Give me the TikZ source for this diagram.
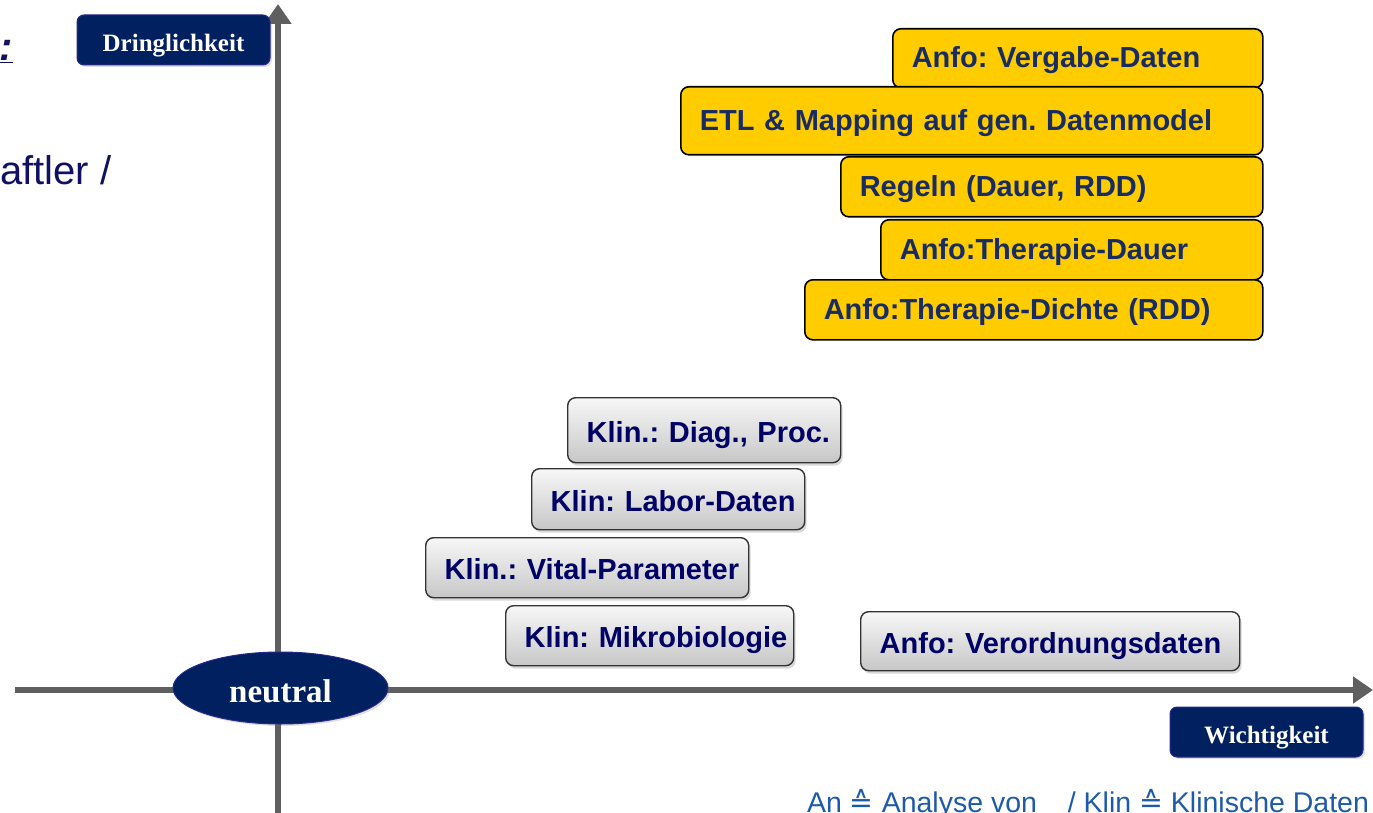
\documentclass[tikz,border=0pt]{standalone}
\usepackage{fontspec}
\setmainfont{Liberation Sans}
\newfontfamily\serifb{Liberation Serif}
\newfontfamily\symf{DejaVu Sans}
\usetikzlibrary{arrows.meta,shapes.geometric,shadows}
\definecolor{navyc}{RGB}{0,32,96}
\definecolor{navyborder}{RGB}{40,40,140}
\definecolor{axisc}{RGB}{95,95,95}
\definecolor{yellowc}{RGB}{255,204,0}
\definecolor{ytext}{RGB}{24,44,100}
\definecolor{gtext}{RGB}{0,0,102}
\definecolor{bluec}{RGB}{30,90,170}
\definecolor{leftc}{RGB}{16,16,100}
\tikzset{
  axisline/.style={draw=axisc, line width=5.5pt, -{Triangle[width=26pt,length=20pt]}},
  navybox/.style={fill=navyc, draw=navyborder, line width=1pt, rounded corners=7pt,
    text=white, font=\serifb\fontsize{25}{28}\selectfont\bfseries,
    minimum width=193pt, minimum height=50pt, inner sep=0pt, text depth=0pt,
    drop shadow={opacity=0.25, shadow xshift=2pt, shadow yshift=-2pt}},
  neutralnode/.style={ellipse, fill=navyc, draw=navyborder, line width=1pt,
    text=white, font=\serifb\fontsize{33}{36}\selectfont\bfseries,
    minimum width=215pt, minimum height=72pt, inner sep=0pt, text height=28pt, text depth=0pt,
    drop shadow={opacity=0.25, shadow xshift=2pt, shadow yshift=-2pt}},
  ybox/.style={draw=black, line width=1.6pt, fill=yellowc, rounded corners=8pt,
    anchor=north west, text=ytext, font=\fontsize{29}{32}\selectfont\bfseries,
    align=left, inner xsep=19pt, inner ysep=0pt},
  gbox/.style={draw=black!80, line width=1.4pt, top color=white!97!black, bottom color=black!22,
    rounded corners=8pt, anchor=north west, text=gtext,
    font=\fontsize{29}{32}\selectfont\bfseries,
    align=left, inner xsep=19pt, inner ysep=0pt,
    drop shadow={opacity=0.3, shadow xshift=2pt, shadow yshift=-3pt}},
}
\begin{document}
\frenchspacing
\begin{tikzpicture}[x=1pt,y=-1pt]
\useasboundingbox (0,0) rectangle (1373,813);
% axes
\coordinate (vbot) at (278,813);
\coordinate (vtop) at (278,4);
\coordinate (hleft) at (15,690);
\coordinate (hright) at (1373,690);
\draw[axisline] (vbot) -- (vtop);
\draw[axisline] (hleft) -- (hright);
% navy labels
\node[navybox, text height=24pt] (dring) at (173.5,40) {Dringlichkeit};
\node[navybox, text height=22pt] (wicht) at (1266.5,732) {Wichtigkeit};
\node[neutralnode] (neutral) at (280.5,688) {neutral};
% left cut-off texts
\node[anchor=base west, inner sep=0pt, text=leftc, font=\fontsize{40}{44}\selectfont\bfseries\itshape] (colon) at (-1,61) {\underline{:}};
\node[anchor=base west, inner sep=0pt, text=leftc, font=\fontsize{40}{44}\selectfont] (aftler) at (0,185) {aftler /};
% yellow boxes
\begin{scope}[every node/.append style={text height=21pt, text depth=2pt}]
\node[ybox, text width=332pt, minimum height=59pt] (y1) at (892,28) {\mbox{Anfo: Vergabe-Daten}};
\node[ybox, text width=544pt, minimum height=68pt] (y2) at (680,86) {\mbox{ETL \& Mapping auf gen. Datenmodel}};
\node[ybox, text width=384pt, minimum height=60pt] (y3) at (840,156) {\mbox{Regeln (Dauer, RDD)}};
\node[ybox, text width=344pt, minimum height=60pt] (y4) at (880,219) {\mbox{Anfo:Therapie-Dauer}};
\node[ybox, text width=420pt, minimum height=60pt] (y5) at (804,279) {\mbox{Anfo:Therapie-Dichte (RDD)}};
\end{scope}
% gray boxes
\begin{scope}[every node/.append style={text height=24pt, text depth=0pt}]
\node[gbox, text width=235pt, minimum height=65pt] (g1) at (567,397) {\mbox{Klin.: Diag., Proc.}};
\node[gbox, text width=235pt, minimum height=61pt] (g2) at (531,468) {\mbox{Klin: Labor-Daten}};
\node[gbox, text width=285pt, minimum height=60pt] (g3) at (425,537) {\mbox{Klin.: Vital-Parameter}};
\node[gbox, text width=250pt, minimum height=60pt] (g4) at (505,605) {\mbox{Klin: Mikrobiologie}};
\node[gbox, text width=341pt, minimum height=59pt] (g5) at (860,611) {\mbox{Anfo: Verordnungsdaten}};
\end{scope}
% footnote
\node[anchor=base west, inner sep=0pt, text=bluec, font=\fontsize{28.5}{30}\selectfont] (note) at (807,812)
  {An {\symf ≙} Analyse von \hspace{15pt} / Klin {\symf ≙} Klinische Daten};
\end{tikzpicture}
\end{document}
